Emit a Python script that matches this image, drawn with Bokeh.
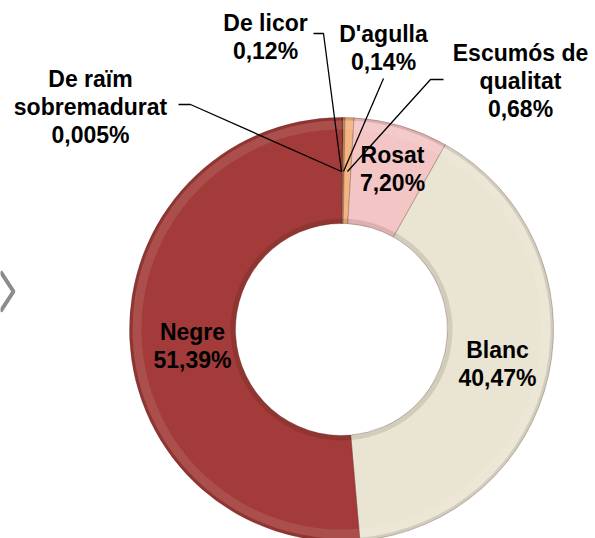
import math
from bokeh.plotting import figure
from bokeh.models import Range1d, ColumnDataSource
from bokeh.core.properties import value
from bokeh.embed import file_html
from bokeh.resources import INLINE

# ---- data ----
categories = ["De raïm sobremadurat", "De licor", "D'agulla", "Escumós de qualitat", "Rosat", "Blanc", "Negre"]
shares = [0.005, 0.12, 0.14, 0.68, 7.20, 40.47, 51.39]
label_lines = [["De raïm", "sobremadurat", "0,005%"], ["De licor", "0,12%"], ["D'agulla", "0,14%"],
               ["Escumós de", "qualitat", "0,68%"], ["Rosat", "7,20%"], ["Blanc", "40,47%"], ["Negre", "51,39%"]]
colors = ["#9E3836", "#7A2C22", "#C98A58", "#F2B480", "#F3C5C5", "#EAE4D2", "#A23B39"]

# ---- layout (screen pixels) ----
W, H = 595, 538
CX, CY = 341, 329          # screen centre of the ring
R_OUT, R_IN = 212, 106

def sx(x):
    return x

def sy(y):
    return H - y

p = figure(width=W, height=H, output_backend="svg", toolbar_location=None,
           x_range=Range1d(0, W), y_range=Range1d(0, H), min_border=0)
p.axis.visible = False
p.grid.visible = False
p.outline_line_color = None
p.background_fill_color = "white"
p.border_fill_color = "white"

total = sum(shares)
starts, ends = [], []
cum = 0.0
for v in shares:
    starts.append(math.pi / 2 - 2 * math.pi * cum / total)
    cum += v
    ends.append(math.pi / 2 - 2 * math.pi * cum / total)

src = ColumnDataSource(dict(start=starts, end=ends, color=colors))
cx, cy = sx(CX), sy(CY)

p.annular_wedge(x=cx, y=cy, inner_radius=R_IN, outer_radius=R_OUT, start_angle="start", end_angle="end",
                direction="clock", fill_color="color", line_color="#5A2A22", line_width=0.5, line_alpha=0.6,
                source=src)
# bevel: darker outer rim, lighter band, darker inner rim
p.annular_wedge(x=cx, y=cy, inner_radius=R_OUT - 3, outer_radius=R_OUT, start_angle="start", end_angle="end",
                direction="clock", fill_color="black", fill_alpha=0.10, line_color=None, source=src)
p.annular_wedge(x=cx, y=cy, inner_radius=R_OUT - 12, outer_radius=R_OUT - 3, start_angle="start", end_angle="end",
                direction="clock", fill_color="white", fill_alpha=0.10, line_color=None, source=src)
p.annular_wedge(x=cx, y=cy, inner_radius=R_IN, outer_radius=R_IN + 5, start_angle="start", end_angle="end",
                direction="clock", fill_color="black", fill_alpha=0.10, line_color=None, source=src)

# leader lines (screen coords of layout)
leaders = [
    [(178, 104), (190, 104), (341, 171)],
    [(313, 33), (323, 33), (341, 171)],
    [(383, 78), (343, 171)],
    [(443, 79), (430, 79), (347, 171)],
]
for pts in leaders:
    p.line([sx(a) for a, b in pts], [sy(b) for a, b in pts], line_color="black", line_width=1.3)

# chevron on left
p.line([sx(0), sx(13), sx(0)], [sy(271), sy(291), sy(311)], line_color="#8C8C8C", line_width=4)

# labels: center x, y of first line (screen)
label_pos = [(90, 78), (265, 22), (383, 33), (520, 52), (392, 154), (497, 349), (192, 331)]
LH = 28
xs, ys, ts = [], [], []
for (x0, y0), lines in zip(label_pos, label_lines):
    for i, t in enumerate(lines):
        xs.append(sx(x0))
        ys.append(sy(y0 + i * LH))
        ts.append(t)
p.text(x=xs, y=ys, text=ts, text_font=value("Liberation Sans"), text_font_style="bold",
       text_font_size="23px", text_align="center", text_baseline="middle", text_color="black")

open("out.html", "w").write(file_html(p, INLINE))
